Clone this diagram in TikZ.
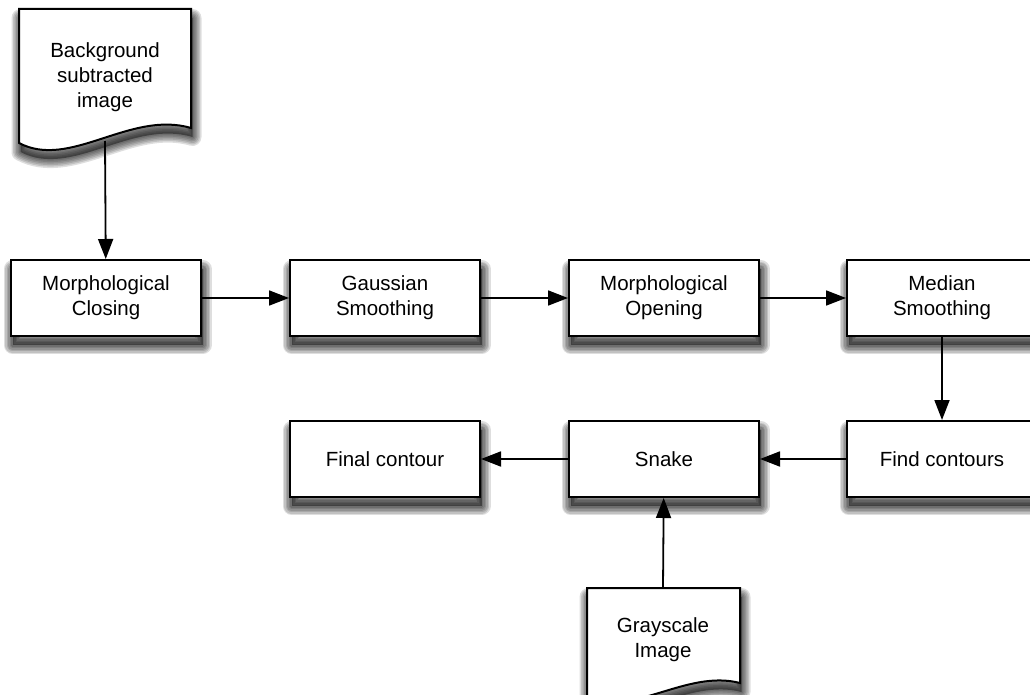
\documentclass[tikz,border=0pt]{standalone}
\usepackage{fontspec}
\setmainfont{Liberation Sans}
\usetikzlibrary{arrows.meta}
\begin{document}
\begin{tikzpicture}[x=1pt,y=-1pt,
  shadowpass/.style={preaction={draw=black, draw opacity=0.13, line width=#1,
      line join=round, transform canvas={shift={(1.5pt,-9pt)}}}},
  softshadow/.style={
    preaction={fill=black, fill opacity=0.4, transform canvas={shift={(1.5pt,-9pt)}}},
    shadowpass=3pt, shadowpass=6pt, shadowpass=9pt,
    shadowpass=12pt, shadowpass=15pt, shadowpass=18pt},
  label/.style={font=\fontsize{20.5}{25}\selectfont, align=center},
  procbox/.style={label, draw=black, line width=2pt, fill=white,
    minimum width=190pt, minimum height=76pt, inner sep=0pt,
    anchor=north west, softshadow},
  docshape/.style={draw=black, line width=2pt, fill=white, softshadow},
  flow/.style={line width=1.8pt, -{Triangle[length=20pt,width=15pt,fill=black]}},
]
\useasboundingbox[fill=white] (0,0) rectangle (1030,695);

% input documents
\path[docshape] (19,9) -- (191,9) -- (191,128)
  .. controls (130,110) and (70,170) .. (19,143) -- cycle;
\node[label] (bgdoc) at (105,77) {Background\\subtracted\\image};
\coordinate (bgtail) at (105,141);

\path[docshape] (587,588) -- (740,588) -- (740,683)
  .. controls (686,669) and (633,718) .. (587,696) -- cycle;
\node[label] (graydoc) at (663,640) {Grayscale\\Image};
\coordinate (graytop) at (663,588);

% processing steps
\node[procbox] (close)  at (10,259)  {Morphological\\Closing};
\node[procbox] (gauss)  at (289,259) {Gaussian\\Smoothing};
\node[procbox] (open)   at (568,259) {Morphological\\Opening};
\node[procbox] (median) at (846,259) {Median\\Smoothing};
\node[procbox] (find)   at (846,420) {Find contours};
\node[procbox] (snake)  at (568,420) {Snake};
\node[procbox] (final)  at (289,420) {Final contour};

% data flow
\draw[flow] (bgtail) -- (close);
\draw[flow] (close) -- (gauss);
\draw[flow] (gauss) -- (open);
\draw[flow] (open) -- (median);
\draw[flow] (median) -- (find);
\draw[flow] (find) -- (snake);
\draw[flow] (snake) -- (final);
\draw[flow] (graytop) -- (snake);
\end{tikzpicture}
\end{document}
